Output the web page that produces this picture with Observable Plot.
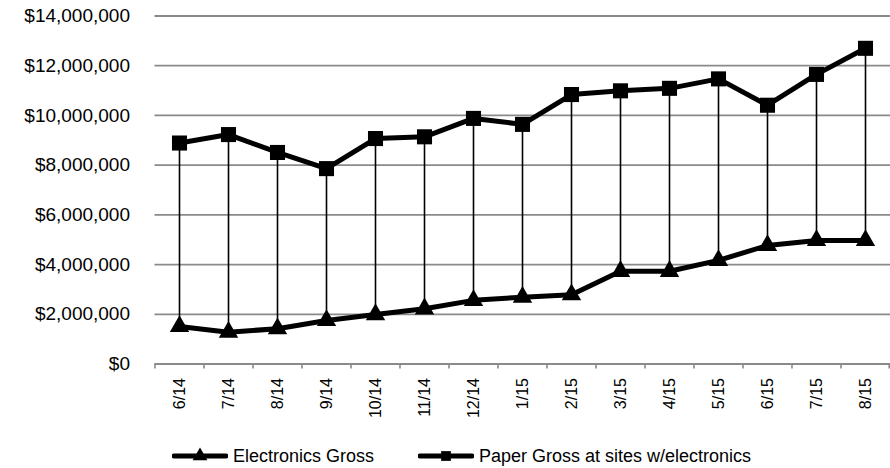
<!DOCTYPE html>
<html>
<head>
<meta charset="utf-8">
<script src="https://cdn.jsdelivr.net/npm/d3@7"></script>
<script src="https://cdn.jsdelivr.net/npm/@observablehq/plot@0.6"></script>
<style>
  html, body { margin: 0; padding: 0; background: #fff; }
  body { width: 890px; height: 468px; overflow: hidden; font-family: "Liberation Sans", Arial, sans-serif; }
  #legend { position: relative; width: 890px; height: 48px; }
  .item { position: absolute; top: 26px; display: flex; align-items: center; font-size: 18px; color: #000; height: 20px; }
  .item svg { margin-right: 5px; }
</style>
</head>
<body>
<div id="chart"></div>
<div id="legend"></div>
<script>
const categories = ["6/14","7/14","8/14","9/14","10/14","11/14","12/14","1/15","2/15","3/15","4/15","5/15","6/15","7/15","8/15"];
const electronics = [1510000,1280000,1420000,1750000,1990000,2220000,2560000,2690000,2790000,3730000,3730000,4170000,4770000,4970000,4970000];
const paper = [8890000,9230000,8510000,7860000,9070000,9140000,9880000,9640000,10840000,10990000,11090000,11470000,10410000,11650000,12700000];
const yTicks = [0,2000000,4000000,6000000,8000000,10000000,12000000,14000000];
const seriesNames = ["Electronics Gross","Paper Gross at sites w/electronics"];

const data = categories.map((c, i) => ({cat: c, elec: electronics[i], paper: paper[i]}));

const W = 890, H = 420, mL = 154.5, mR = 0;
const step = (W - mL - mR) / categories.length;
const grey = "#8a8a8a";

const chart = Plot.plot({
  width: W,
  height: H,
  marginLeft: mL,
  marginRight: mR,
  marginTop: 15.5,
  marginBottom: 56.5,
  style: {fontFamily: "'Liberation Sans', Arial, sans-serif", background: "#fff", color: "#000"},
  x: {type: "point", domain: categories, padding: 0.5},
  y: {domain: [0, 14000000]},
  marks: [
    Plot.ruleY(yTicks, {y: d => d, stroke: grey, strokeWidth: 1.8}),
    Plot.ruleX(categories, {x: d => d, dx: -step / 2, y1: 0, y2: 0, insetBottom: -5, stroke: grey, strokeWidth: 1.6}),
    Plot.ruleX(categories.slice(-1), {x: d => d, dx: step / 2 - 0.8, y1: 0, y2: 0, insetBottom: -5, stroke: grey, strokeWidth: 1.6}),
    Plot.axisY({ticks: yTicks, tickSize: 0, tickPadding: 25, tickFormat: d => "$" + d3.format(",")(d), fontSize: 19, label: null}),
    Plot.axisX({tickSize: 0, tickRotate: -90, tickPadding: 14, fontSize: 16, label: null}),
    Plot.ruleX(data, {x: "cat", y1: "elec", y2: "paper", stroke: "#000", strokeWidth: 1.6}),
    Plot.line(data, {x: "cat", y: "paper", stroke: "#000", strokeWidth: 5}),
    Plot.line(data, {x: "cat", y: "elec", stroke: "#000", strokeWidth: 5}),
    Plot.dot(data, {x: "cat", y: "paper", symbol: "square", r: 8.5, fill: "#000", stroke: "none"}),
    Plot.dot(data, {x: "cat", y: "elec", symbol: "triangle", r: 7.2, fill: "#000", stroke: "none"})
  ]
});
document.getElementById("chart").appendChild(chart);

// legend
const legend = d3.select("#legend");
const items = [
  {name: seriesNames[0], left: 172, sym: d3.symbolTriangle, r: 5.5},
  {name: seriesNames[1], left: 418, sym: d3.symbolSquare, r: 5.5}
];
items.forEach(it => {
  const div = legend.append("div").attr("class", "item").style("left", it.left + "px");
  const s = div.append("svg").attr("width", 56).attr("height", 20);
  s.append("line").attr("x1", 2).attr("x2", 54).attr("y1", 10).attr("y2", 10)
    .attr("stroke", "#000").attr("stroke-width", 5).attr("stroke-linecap", "round");
  s.append("path").attr("transform", "translate(28,10)")
    .attr("d", d3.symbol(it.sym, Math.PI * it.r * it.r)()).attr("fill", "#000");
  div.append("span").text(it.name);
});
</script>
</body>
</html>
